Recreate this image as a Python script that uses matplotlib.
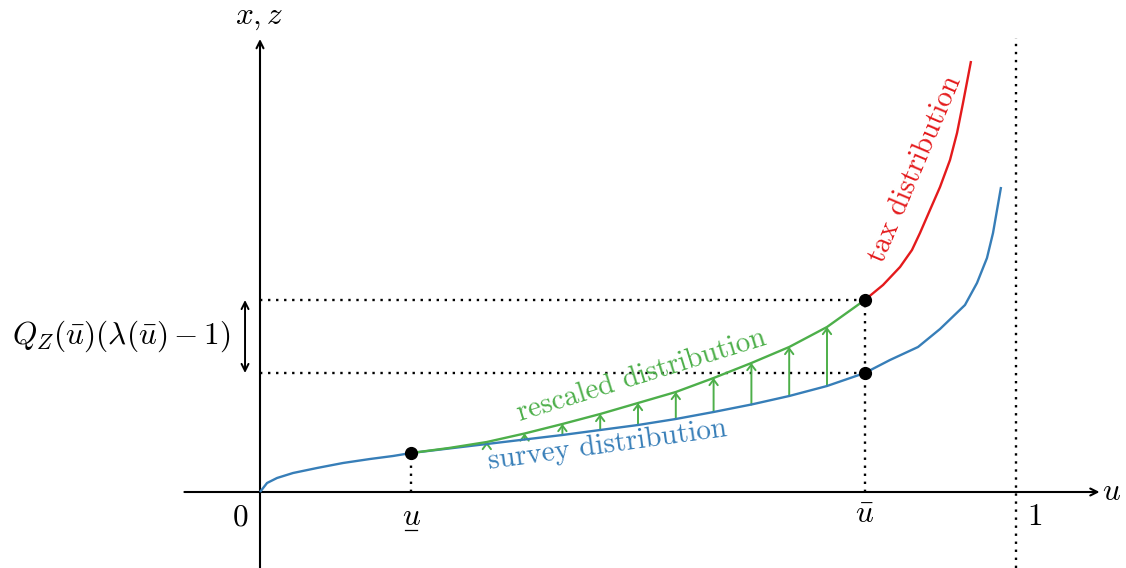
import numpy as np
import matplotlib.pyplot as plt

plt.rcParams['mathtext.fontset'] = 'cm'
plt.rcParams['font.family'] = 'cmr10'
plt.rcParams['axes.formatter.use_mathtext'] = True

# survey distribution (blue)
survey_u = [0, 0.0093, 0.0225, 0.0437, 0.0754, 0.1098, 0.1455, 0.1759, 0.2, 0.25, 0.3, 0.35,
            0.4, 0.45, 0.5, 0.55, 0.6, 0.65, 0.7, 0.75, 0.8, 0.8333, 0.8704, 0.8995, 0.9325,
            0.9484, 0.9616, 0.9696, 0.9749, 0.9802]
survey_q = [0, 0.09, 0.14, 0.19, 0.24, 0.29, 0.33, 0.36, 0.39, 0.435, 0.48, 0.525,
            0.57, 0.62, 0.67, 0.73, 0.80, 0.875, 0.96, 1.06, 1.19, 1.32, 1.45, 1.63, 1.87,
            2.09, 2.34, 2.59, 2.82, 3.05]

# rescaled distribution (green), between u_low and u_bar
rescaled_u = [0.2, 0.25, 0.3, 0.35, 0.4, 0.45, 0.5, 0.55, 0.6, 0.65, 0.7, 0.75, 0.8]
rescaled_q = [0.39, 0.44, 0.50, 0.585, 0.68, 0.78, 0.89, 1.00, 1.14, 1.29, 1.45, 1.65, 1.92]

# tax distribution (red), above u_bar
tax_u = [0.8, 0.8241, 0.8466, 0.8624, 0.873, 0.8862, 0.8995, 0.9127, 0.922, 0.9299, 0.9405]
tax_q = [1.92, 2.07, 2.25, 2.42, 2.59, 2.82, 3.05, 3.32, 3.59, 3.89, 4.31]

arrow_u = [0.3, 0.35, 0.4, 0.45, 0.5, 0.55, 0.6, 0.65, 0.7, 0.75]

u_low = 0.2
u_bar = 0.8

blue = '#377eb8'
green = '#4daf4a'
red = '#e41a1c'

fig = plt.figure(figsize=(11.26, 5.68), dpi=100)
ax = fig.add_axes([0, 0, 1, 1])
ax.set_xlim(-260 / 756, 866 / 756)
ax.set_ylim(-0.76, 4.92)
ax.axis('off')

q_low = np.interp(u_low, survey_u, survey_q)
q_bar = np.interp(u_bar, survey_u, survey_q)
q_tax = tax_q[0]

# dotted guides
dot = dict(color='black', lw=1.7, linestyle=(0, (1, 2.4)))
ax.plot([0, u_bar], [q_tax, q_tax], **dot)
ax.plot([0, u_bar], [q_bar, q_bar], **dot)
ax.plot([u_low, u_low], [0, q_low], **dot)
ax.plot([u_bar, u_bar], [0, q_tax], **dot)
ax.plot([1, 1], [-0.76, 4.54], **dot)

# axes with arrows
ax.annotate('', xy=(1.1105, 0), xytext=(-0.1, 0),
            arrowprops=dict(arrowstyle='->,head_length=0.5,head_width=0.25', lw=1.5, color='black',
                            shrinkA=0, shrinkB=0))
ax.annotate('', xy=(0, 4.53), xytext=(0, -0.76),
            arrowprops=dict(arrowstyle='->,head_length=0.5,head_width=0.25', lw=1.5, color='black',
                            shrinkA=0, shrinkB=0))

# curves
ax.plot(survey_u, survey_q, color=blue, lw=1.7, solid_capstyle='butt', solid_joinstyle='round', zorder=3)
ax.plot(rescaled_u, rescaled_q, color=green, lw=1.7, solid_joinstyle='round', zorder=3)
ax.plot(tax_u, tax_q, color=red, lw=1.7, solid_capstyle='butt', solid_joinstyle='round', zorder=3)

# rescaling arrows
for u in arrow_u:
    lo = np.interp(u, survey_u, survey_q)
    hi = np.interp(u, rescaled_u, rescaled_q)
    ax.annotate('', xy=(u, hi), xytext=(u, lo),
                arrowprops=dict(arrowstyle='->,head_length=0.4,head_width=0.3', lw=1.4, color=green,
                                shrinkA=0, shrinkB=0), zorder=2)

# points
ax.plot([u_low, u_bar, u_bar], [q_low, q_bar, q_tax], 'o', color='black', ms=8.5, zorder=5)

# double arrow
ax.annotate('', xy=(-0.0198, q_tax), xytext=(-0.0198, q_bar),
            arrowprops=dict(arrowstyle='<->,head_length=0.5,head_width=0.25', lw=1.4, color='black',
                            shrinkA=0, shrinkB=0))

fs = 22.5
ax.text(-0.1839, (q_tax + q_bar) / 2, r'$Q_Z(\bar{u})(\lambda(\bar{u})-1)$', fontsize=fs,
        ha='center', va='center')
ax.text(-0.0013, 4.74, r'$x, z$', fontsize=fs, ha='center', va='center')
ax.text(1.1257, 0.0, r'$u$', fontsize=fs, ha='center', va='center')
ax.text(-0.026, -0.26, r'$0$', fontsize=fs, ha='center', va='center')
ax.text(1.025, -0.25, r'$1$', fontsize=fs, ha='center', va='center')
ax.text(u_low, -0.25, r'$u$', fontsize=fs, ha='center', va='center')
ax.plot([u_low - 0.008, u_low + 0.008], [-0.38, -0.38], color='black', lw=0.9)
ax.text(u_bar, -0.22, r'$\bar{u}$', fontsize=fs, ha='center', va='center')

cs = 21
ax.text(0.4616, 0.40, 'survey distribution', color=blue, fontsize=cs, rotation=7.9,
        ha='center', va='baseline', rotation_mode='anchor')
ax.text(0.5073, 1.095, 'rescaled distribution', color=green, fontsize=cs, rotation=17.2,
        ha='center', va='baseline', rotation_mode='anchor')
ax.text(0.8675, 3.23, 'tax distribution', color=red, fontsize=cs, rotation=67,
        ha='center', va='center', rotation_mode='anchor')

fig.savefig('out.png', dpi=100)
